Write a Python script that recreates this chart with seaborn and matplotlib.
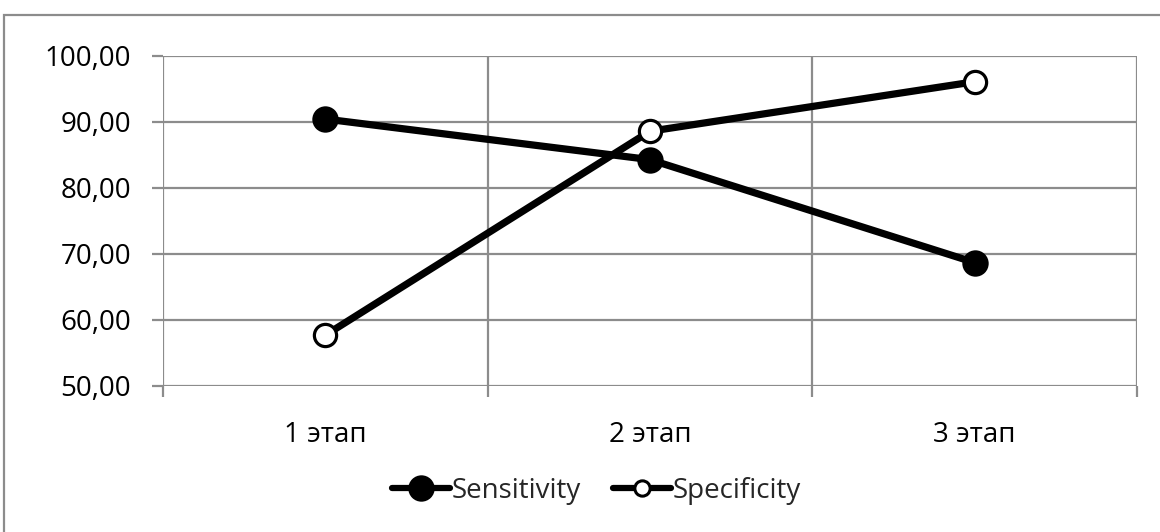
import matplotlib
matplotlib.use("Agg")
import matplotlib.pyplot as plt
import seaborn as sns
import pandas as pd
from matplotlib.patches import Rectangle
from matplotlib.ticker import FixedLocator, FuncFormatter

stages = ["1 этап", "2 этап", "3 этап"]
sensitivity = [90.45, 84.3, 68.7]
specificity = [57.7, 88.6, 96.1]
y_ticks = [50, 60, 70, 80, 90, 100]

sns.set_theme(style="white")
plt.rcParams["font.family"] = ["Open Sans", "DejaVu Sans"]

fig = plt.figure(figsize=(11.6, 5.32), dpi=100)
ax = fig.add_axes([163/1160, 1-386/532, (1137-163)/1160, (386-56)/532])

df_sens = pd.DataFrame({"stage": stages, "value": sensitivity})
df_spec = pd.DataFrame({"stage": stages, "value": specificity})

sns.lineplot(data=df_sens, x="stage", y="value", ax=ax, color="black", lw=5.2,
             marker="o", markersize=19, markerfacecolor="black",
             markeredgecolor="black", markeredgewidth=0, label="Sensitivity", zorder=3)
sns.lineplot(data=df_spec, x="stage", y="value", ax=ax, color="black", lw=5.2,
             marker="o", markersize=16, markerfacecolor="white",
             markeredgecolor="black", markeredgewidth=2.3, label="Specificity", zorder=4)

ax.set_xlim(-0.5, 2.5)
ax.set_ylim(50, 100)
ax.set_xlabel("")
ax.set_ylabel("")
ax.set_yticks(y_ticks)
ax.yaxis.set_major_formatter(FuncFormatter(lambda v, p: f"{v:.2f}".replace(".", ",")))
ax.set_xticks([0, 1, 2])
ax.set_xticklabels(stages)
ax.xaxis.set_minor_locator(FixedLocator([-0.5, 0.5, 1.5, 2.5]))

grid_c = "#8c8c8c"
ax.grid(True, which="major", axis="y", color=grid_c, lw=1.6)
ax.grid(True, which="minor", axis="x", color=grid_c, lw=1.6)
ax.grid(False, which="major", axis="x")
for s in ax.spines.values():
    s.set_visible(False)

ax.tick_params(axis="y", which="major", length=8, width=1.6, color=grid_c,
               labelsize=20, labelcolor="black", pad=15, left=True)
ax.tick_params(axis="x", which="major", length=0, labelsize=20, labelcolor="black", pad=25)
ax.tick_params(axis="x", which="minor", length=8, width=1.6, color=grid_c, bottom=True,
               direction="out")

leg = ax.legend(loc="center", bbox_to_anchor=(0.514, 1-491/532), bbox_transform=fig.transFigure,
                ncol=2, frameon=False, fontsize=20, handlelength=2.1, handletextpad=0.05,
                columnspacing=1.15)
for h in leg.legend_handles:
    h.set_linewidth(4.5)
leg.legend_handles[0].set_markersize(19)
leg.legend_handles[1].set_markersize(11)
leg.legend_handles[1].set_markeredgewidth(2.2)

fig.patches.append(Rectangle((4/1160, -0.05), 1.2, 1.05 - 15/532, transform=fig.transFigure,
                             fill=False, edgecolor=grid_c, lw=1.6))

fig.savefig("out.png", dpi=100)
